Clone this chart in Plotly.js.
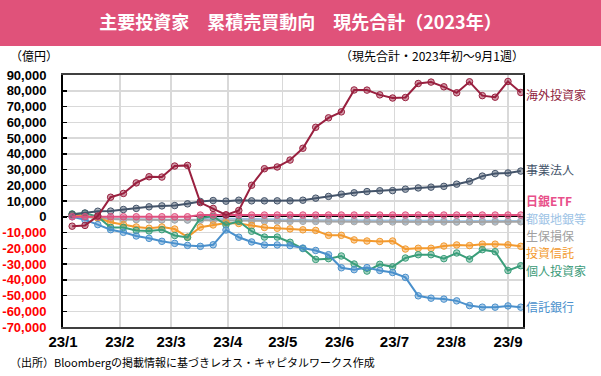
<!DOCTYPE html>
<html>
<head>
<meta charset="utf-8">
<script src="https://cdn.plot.ly/plotly-3.0.1.min.js"></script>
<style>html,body{margin:0;padding:0;background:#fff;}#chart{width:601px;height:376px;}</style>
</head>
<body>
<div id="chart"></div>
<script>
// ---- data ----
const dates = ['2023-01-06','2023-01-13','2023-01-20','2023-01-27','2023-02-03','2023-02-10','2023-02-17','2023-02-24',
  '2023-03-03','2023-03-10','2023-03-17','2023-03-24','2023-03-31','2023-04-07','2023-04-14','2023-04-21','2023-04-28',
  '2023-05-05','2023-05-12','2023-05-19','2023-05-26','2023-06-02','2023-06-09','2023-06-16','2023-06-23','2023-06-30',
  '2023-07-07','2023-07-14','2023-07-21','2023-07-28','2023-08-04','2023-08-11','2023-08-18','2023-08-25','2023-09-01','2023-09-08'];

const foreignInv = [-6000,-5500,500,12400,14800,21500,25400,25200,32200,32600,9000,5300,1200,4000,20000,30500,31600,
  36000,43500,56800,62800,66600,80500,80400,77400,75400,75700,84600,85500,82500,78700,85700,76900,75900,85900,78900];
const corporates = [1500,2400,3500,3600,4600,5300,6300,6900,7100,8200,9700,10300,9900,10500,10100,10100,10100,
  10100,10500,11800,12900,14300,15200,16000,16500,16600,17500,18300,18800,19300,20700,22500,25800,27400,27800,29000];
const bojEtf = [0,0,0,0,0,0,0,0,0,0,1100,1100,1100,1100,1100,1100,1100,1100,1100,1100,1100,1100,1100,1100,1100,1100,
  1100,1100,1100,1100,1100,1100,1100,1100,1100,1100];
const banks = [500,-300,-800,-1200,-1500,-1700,-1800,-1900,-1900,-2000,-1800,-1000,-1200,-1500,-1700,-1800,-1900,
  -2000,-2100,-2200,-2200,-2300,-2300,-2400,-2400,-2500,-2600,-2600,-2600,-2600,-2900,-2700,-2700,-2600,-2700,-2700];
const insurers = [800,0,-800,-1400,-1700,-1800,-1900,-2000,-2000,-2100,-2200,-2400,-2500,-2600,-2700,-2800,-2800,
  -2900,-2900,-3000,-3000,-3000,-3100,-3100,-3200,-3300,-3300,-3300,-3300,-3300,-3400,-3300,-3300,-3300,-3200,-3200];
const invTrusts = [1500,300,-800,-3500,-5000,-6500,-7300,-6500,-7800,-12900,-6600,-5200,-3900,-4300,-5500,-6800,-7300,
  -7700,-8300,-8700,-11800,-11800,-14700,-15400,-15700,-15400,-20500,-20000,-20000,-18600,-17900,-18300,-17400,-17400,-17800,-18800];
const individuals = [1800,2200,0,-6800,-6800,-8700,-9000,-8200,-11900,-13100,-800,300,-5200,-2900,-9200,-12900,-12900,
  -16200,-20200,-27100,-26600,-24900,-30000,-34500,-30200,-31800,-26200,-24100,-24100,-26600,-23000,-26900,-20900,-22200,-34100,-31100];
const trustBanks = [0,-2000,-5000,-8200,-9900,-12200,-13700,-15600,-16900,-18200,-18800,-17800,-8400,-13000,-16000,-17900,-17900,
  -18300,-19900,-21400,-24100,-32400,-33600,-32300,-34100,-35400,-38500,-50200,-51700,-52300,-53400,-56400,-57400,-57400,-56600,-57400];

const seriesNames = ['都銀地銀等','生保損保','投資信託','個人投資家','信託銀行','事業法人','日銀ETF','海外投資家'];
const seriesValues = [banks, insurers, invTrusts, individuals, trustBanks, corporates, bojEtf, foreignInv];
const seriesColors = ['#9DC3E6','#A5A5A5','#F39A2E','#3A9E7A','#4A90CC','#44546A','#E0507F','#99203F'];
const labelColors  = ['#9DC3E6','#A0A0A0','#F39A2E','#3A9A78','#4A90CC','#44546A','#E8508A','#8F1D3D'];
const labelYs = [-800,-11900,-23000,-34100,-57100,30100,10300,77700];

const monthTicks = ['2023-01-01','2023-02-01','2023-03-01','2023-04-01','2023-05-01','2023-06-01','2023-07-01','2023-08-01','2023-09-01'];
const monthLabels = ['23/1','23/2','23/3','23/4','23/5','23/6','23/7','23/8','23/9'];
const yTickVals = [90000,80000,70000,60000,50000,40000,30000,20000,10000,0,-10000,-20000,-30000,-40000,-50000,-60000,-70000];
const yTickText = ['90,000','80,000','70,000','60,000','50,000','40,000','30,000','20,000','10,000','0',
  '-10,000','-20,000','-30,000','-40,000','-50,000','-60,000','-70,000'];

// ---- layout geometry (pixels) ----
const W = 601, H = 376, L = 63, R = 78, T = 75, B = 49;
const pw = W - L - R, ph = H - T - B;
const px = x => (x - L) / pw;
const py = y => (H - B - y) / ph;

function hexA(hex, a) {
  const n = parseInt(hex.slice(1), 16);
  return `rgba(${(n>>16)&255},${(n>>8)&255},${n&255},${a})`;
}

const traces = seriesNames.map((name, i) => ({
  type: 'scatter', mode: 'lines+markers', name: name,
  x: dates, y: seriesValues[i],
  line: {color: seriesColors[i], width: 2},
  marker: {symbol: 'circle', size: 6.5, color: hexA(seriesColors[i], 0.45), line: {color: seriesColors[i], width: 1}},
  hoverinfo: 'x+y+name'
}));

const ticktextY = yTickText.map((t, i) => yTickVals[i] < 0 ? `<span style="color:#FF0000">${t}</span>` : t);

const annotations = seriesNames.map((name, i) => ({
  xref: 'paper', yref: 'y', x: 1, y: labelYs[i], xanchor: 'left', yanchor: 'middle', xshift: 2,
  text: name, showarrow: false, borderpad: 0,
  font: {family: 'Noto Sans CJK JP', size: 12, color: labelColors[i], weight: name === '日銀ETF' ? 'bold' : 'normal'}
}));
annotations.push({
  xref: 'paper', yref: 'paper', x: px(8), y: py(55), xanchor: 'left', yanchor: 'middle',
  text: '（億円）', showarrow: false, font: {family: 'Noto Sans CJK JP', size: 12, color: '#000'}
});
annotations.push({
  xref: 'paper', yref: 'paper', x: px(526), y: py(55), xanchor: 'right', yanchor: 'middle',
  text: '（現先合計・2023年初～9月1週）', showarrow: false, font: {family: 'Noto Sans CJK JP', size: 12, color: '#000'}
});
annotations.push({
  xref: 'paper', yref: 'paper', x: px(8), y: py(362), xanchor: 'left', yanchor: 'middle',
  text: '（出所）Bloombergの掲載情報に基づきレオス・キャピタルワークス作成', showarrow: false,
  font: {family: 'Noto Sans CJK JP', size: 11, color: '#000'}
});

const xRange = ['2023-01-01', '2023-09-09 05:00'];

const layout = {
  width: W, height: H,
  margin: {l: L, r: R, t: T, b: B, pad: 0},
  paper_bgcolor: '#fff', plot_bgcolor: '#fff',
  showlegend: false,
  title: {text: '主要投資家　累積売買動向　現先合計（2023年）', xref: 'container', x: 0.5, xanchor: 'center',
    yref: 'container', y: 1 - 23 / H, yanchor: 'middle',
    font: {family: 'Noto Sans CJK JP', size: 18, color: '#fff', weight: 'bold'}},
  shapes: [{type: 'rect', xref: 'paper', yref: 'paper', x0: px(0), x1: px(W), y0: py(46), y1: py(0),
    fillcolor: '#E0527A', line: {width: 0}, layer: 'below'}],
  xaxis: {
    type: 'date', range: xRange, tickmode: 'array', tickvals: monthTicks, ticktext: monthLabels,
    showgrid: true, gridcolor: '#D9D9D9', gridwidth: 1.5,
    showline: true, linecolor: '#404040', linewidth: 2, mirror: true,
    ticks: '', ticklabelstandoff: 0,
    tickfont: {family: 'Liberation Sans', size: 15, color: '#000', weight: 'bold'},
    zeroline: false, fixedrange: true
  },
  xaxis2: {
    type: 'date', range: xRange, overlaying: 'x', anchor: 'free', position: 70000 / 160000,
    tickmode: 'array', tickvals: monthTicks, showticklabels: false,
    ticks: 'outside', ticklen: 3, tickcolor: '#000', tickwidth: 1,
    showline: true, linecolor: '#000', linewidth: 1, showgrid: false, zeroline: false
  },
  yaxis: {
    range: [-70000, 90000], tickmode: 'array', tickvals: yTickVals, ticktext: ticktextY,
    showgrid: true, gridcolor: '#D9D9D9', gridwidth: 1.5,
    showline: true, linecolor: '#000', linewidth: 2, mirror: true,
    ticks: 'inside', ticklen: 4, tickcolor: '#000', tickwidth: 1.5, ticklabelstandoff: 12,
    tickfont: {family: 'Liberation Sans', size: 13, color: '#000', weight: 'bold'},
    zeroline: true, zerolinecolor: '#000', zerolinewidth: 1, fixedrange: true
  },
  annotations: annotations
};

Plotly.newPlot('chart', traces, layout, {displayModeBar: false, staticPlot: true});
</script>
</body>
</html>
